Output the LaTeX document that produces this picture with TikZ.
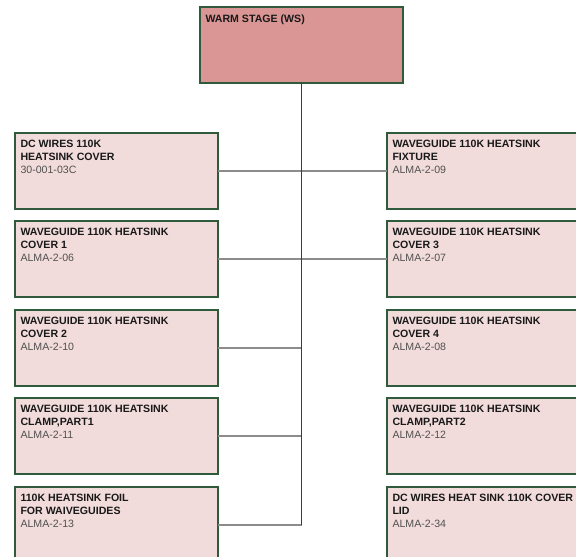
\documentclass[tikz,border=0pt]{standalone}
\usepackage{fontspec}
\setmainfont{Liberation Sans}
\definecolor{bordergreen}{HTML}{2F5A3B}
\definecolor{boxfill}{HTML}{F2DCDB}
\definecolor{wsfill}{HTML}{D99694}
\definecolor{codegray}{HTML}{505050}
\definecolor{linegray}{HTML}{8C8C8C}
\definecolor{trunkgray}{HTML}{3C3C3C}
\newcommand{\boxtext}[2]{\parbox[t][61pt][t]{192pt}{\fontsize{10.6pt}{12.6pt}\selectfont\bfseries #1\par\mdseries\color{codegray}#2}}
\begin{document}
\begin{tikzpicture}[x=1pt,y=-1pt,
  partbox/.style={draw=bordergreen, line width=2pt, fill=boxfill, anchor=north west,
    inner xsep=5.5pt, inner ysep=7.5pt, outer sep=0pt, text=black!90},
  conn/.style={draw=linegray, line width=1.2pt},
  trunk/.style={draw=trunkgray, line width=0.9pt}]
\useasboundingbox (0,0) rectangle (576,557);
\clip (0,0) rectangle (576,557);
\fill[white] (0,0) rectangle (576,557);
\node[partbox, fill=wsfill] (ws) at (200,7) {\parbox[t][61pt][t]{192pt}{\fontsize{10.6pt}{12.6pt}\selectfont\bfseries WARM STAGE (WS)}};
% left column
\node[partbox] (l1) at (15,133) {\boxtext{DC WIRES 110K\\HEATSINK COVER}{30-001-03C}};
\node[partbox] (l2) at (15,221) {\boxtext{WAVEGUIDE 110K HEATSINK\\COVER 1}{ALMA-2-06}};
\node[partbox] (l3) at (15,310) {\boxtext{WAVEGUIDE 110K HEATSINK\\COVER 2}{ALMA-2-10}};
\node[partbox] (l4) at (15,398) {\boxtext{WAVEGUIDE 110K HEATSINK\\CLAMP,PART1}{ALMA-2-11}};
\node[partbox] (l5) at (15,487) {\boxtext{110K HEATSINK FOIL\\FOR WAIVEGUIDES}{ALMA-2-13}};
% right column
\node[partbox] (r1) at (387,133) {\boxtext{WAVEGUIDE 110K HEATSINK\\FIXTURE}{ALMA-2-09}};
\node[partbox] (r2) at (387,221) {\boxtext{WAVEGUIDE 110K HEATSINK\\COVER 3}{ALMA-2-07}};
\node[partbox] (r3) at (387,310) {\boxtext{WAVEGUIDE 110K HEATSINK\\COVER 4}{ALMA-2-08}};
\node[partbox] (r4) at (387,398) {\boxtext{WAVEGUIDE 110K HEATSINK\\CLAMP,PART2}{ALMA-2-12}};
\node[partbox] (r5) at (387,487) {\boxtext{DC WIRES HEAT SINK 110K COVER\\LID}{ALMA-2-34}};
% connectors
\coordinate (t3) at (ws.south |- l3.east);
\coordinate (t4) at (ws.south |- l4.east);
\coordinate (t5) at (ws.south |- l5.east);
\draw[conn] (l1.east) -- (r1.west);
\draw[conn] (l2.east) -- (r2.west);
\draw[conn] (l3.east) -- (t3);
\draw[conn] (l4.east) -- (t4);
\draw[conn] (l5.east) -- (t5);
\draw[trunk] (ws.south) -- (t5);
\end{tikzpicture}
\end{document}
